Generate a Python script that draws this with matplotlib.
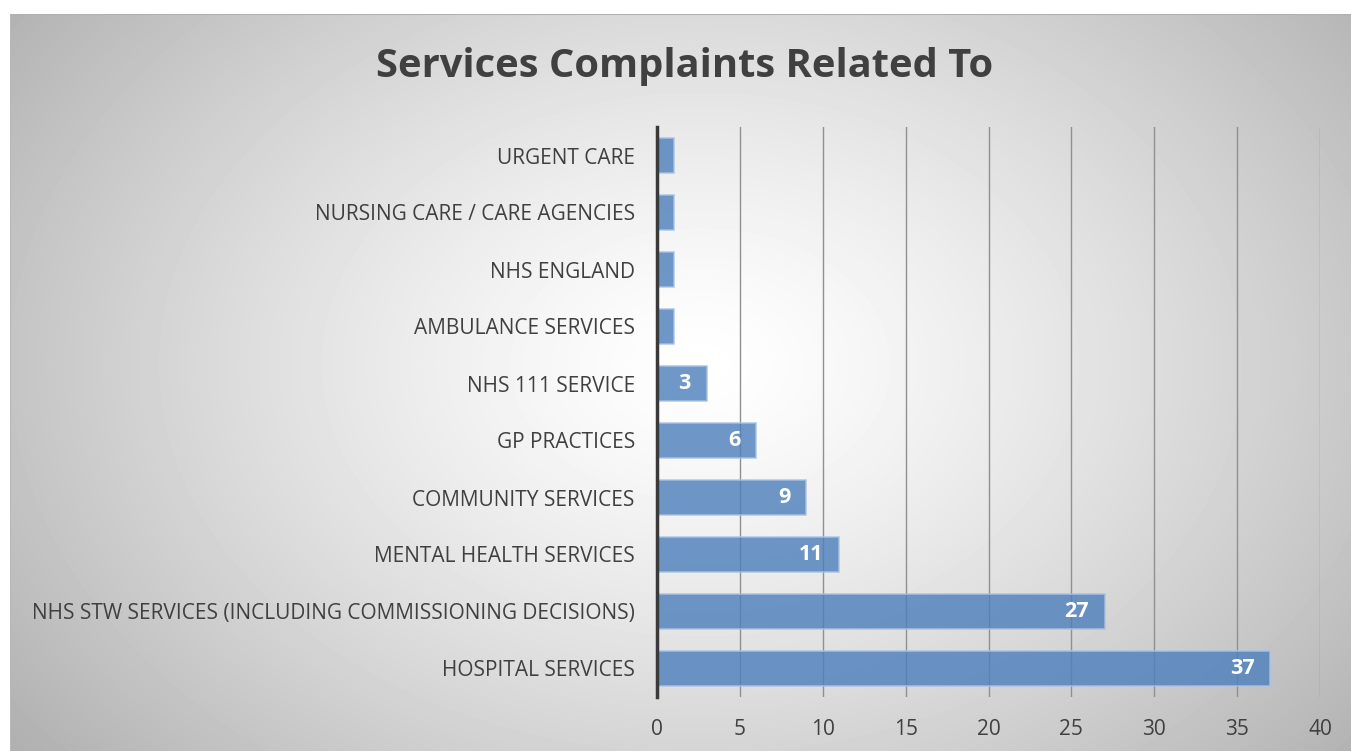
import numpy as np
import matplotlib.pyplot as plt

categories = ['URGENT CARE', 'NURSING CARE / CARE AGENCIES', 'NHS ENGLAND',
              'AMBULANCE SERVICES', 'NHS 111 SERVICE', 'GP PRACTICES',
              'COMMUNITY SERVICES', 'MENTAL HEALTH SERVICES',
              'NHS STW SERVICES (INCLUDING COMMISSIONING DECISIONS)',
              'HOSPITAL SERVICES']
values = [1, 1, 1, 1, 3, 6, 9, 11, 27, 37]
xticks = [0, 5, 10, 15, 20, 25, 30, 35, 40]

plt.rcParams['font.family'] = ['Open Sans', 'DejaVu Sans']

W, H = 1351, 751
fig = plt.figure(figsize=(W / 100, H / 100), dpi=100)
fig.patch.set_facecolor('white')

# radial gradient background panel
bg = fig.add_axes([10 / W, 0, 1 - 10 / W, 1 - 14 / H])
yy, xx = np.mgrid[0:H - 14, 0:W - 10]
cx, cy = 690, 350
r = np.sqrt(((xx - cx) / 780.0) ** 2 + ((yy - cy) / 560.0) ** 2)
shade = 1.0 - 0.27 * np.clip(r, 0, 1.2) ** 1.3
bg.imshow(shade, cmap='gray', vmin=0, vmax=1, aspect='auto', interpolation='bilinear')
bg.set_xticks([])
bg.set_yticks([])
for s in bg.spines.values():
    s.set_visible(False)
bg.axhline(-0.5, color='#b0b0b0', lw=1.5)
bg.axvline(-0.5, color='#b8b8b8', lw=1.5)

fig.text(685 / W, 1 - 67 / H, 'Services Complaints Related To', ha='center', va='center',
         fontsize=28.7, fontweight='bold', color='#404040')

ax = fig.add_axes([657 / W, 54 / H, 663 / W, 570 / H])
ax.patch.set_alpha(0)
y = np.arange(len(categories))
bars = ax.barh(y, values, height=0.6, color='#4f81bd', alpha=0.82,
               edgecolor='#a9c3e3', linewidth=1.2, zorder=3)
for yi, v in zip(y, values):
    if v > 1:
        ax.text(v - 0.95, yi, str(v), ha='right', va='center', color='white',
                fontsize=15.5, fontweight='bold', zorder=4)

ax.set_xlim(0, 40)
ax.set_ylim(len(categories) - 0.5, -0.5)
ax.set_xticks(xticks)
ax.set_yticks(y)
ax.set_yticklabels(categories)
ax.xaxis.grid(True, color='#909090', lw=1, zorder=0)
ax.tick_params(axis='both', length=0, colors='#404040', labelsize=15)
ax.tick_params(axis='x', pad=16)
ax.tick_params(axis='y', pad=16)
for s in ['top', 'right', 'bottom']:
    ax.spines[s].set_visible(False)
ax.spines['left'].set_color('#3a3a3a')
ax.spines['left'].set_linewidth(2.5)
ax.spines['left'].set_zorder(5)

fig.savefig('out.png', dpi=100)
